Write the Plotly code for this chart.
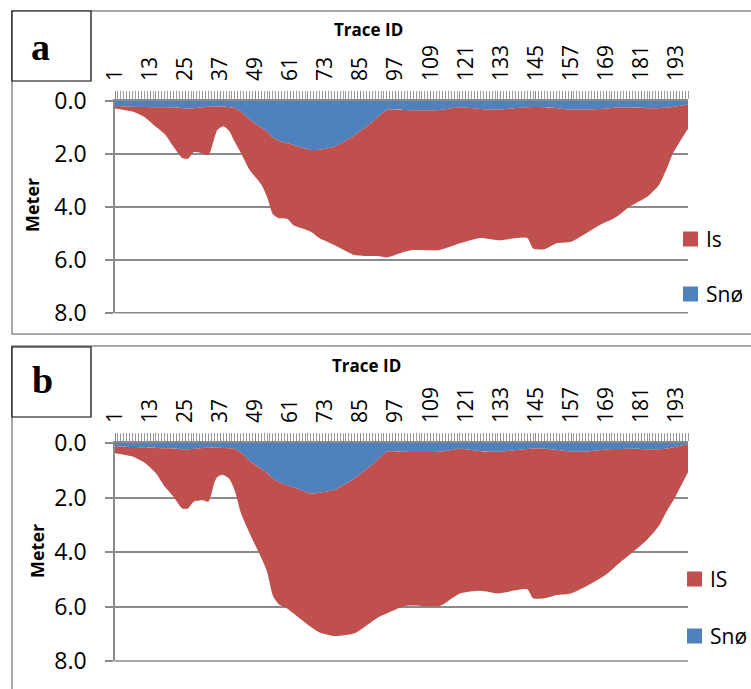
import plotly.graph_objects as go

W, H = 751, 689

# ---------------- data ----------------
trace_ids = [1, 7, 11, 15, 18, 21, 24, 26, 28, 31, 33, 35, 36, 38, 40, 42, 44, 47, 51, 53,
             55, 57, 60, 62, 68, 71, 76, 83, 88, 91, 94, 100, 103, 112, 119, 126, 132, 142,
             144, 148, 152, 157, 163, 168, 171, 173, 177, 183, 187, 190, 192, 197]

snow_a = [0.19, 0.22, 0.23, 0.24, 0.24, 0.25, 0.27, 0.28, 0.27, 0.24, 0.22, 0.21, 0.21, 0.21,
          0.24, 0.27, 0.40, 0.70, 1.00, 1.15, 1.38, 1.50, 1.60, 1.66, 1.85, 1.84, 1.73, 1.29,
          0.88, 0.60, 0.34, 0.34, 0.35, 0.34, 0.24, 0.30, 0.32, 0.24, 0.23, 0.24, 0.27, 0.32,
          0.32, 0.29, 0.26, 0.25, 0.25, 0.27, 0.27, 0.25, 0.22, 0.13]
ice_a = [0.09, 0.18, 0.37, 0.73, 1.01, 1.48, 1.88, 1.90, 1.66, 1.74, 1.82, 1.19, 0.89, 0.74,
         0.88, 1.28, 1.55, 1.90, 2.15, 2.47, 2.90, 2.93, 2.86, 3.03, 3.09, 3.35, 3.71, 4.53,
         4.98, 5.26, 5.57, 5.36, 5.28, 5.29, 5.14, 4.88, 4.94, 4.94, 5.34, 5.36, 5.11, 5.00,
         4.62, 4.33, 4.22, 4.10, 3.75, 3.35, 2.91, 2.23, 1.73, 0.92]

snow_b = [0.12, 0.15, 0.16, 0.18, 0.19, 0.20, 0.23, 0.23, 0.21, 0.18, 0.17, 0.17, 0.17, 0.18,
          0.19, 0.22, 0.35, 0.65, 0.95, 1.10, 1.30, 1.43, 1.55, 1.62, 1.85, 1.83, 1.72, 1.29,
          0.88, 0.60, 0.32, 0.32, 0.33, 0.32, 0.21, 0.30, 0.32, 0.22, 0.20, 0.21, 0.25, 0.32,
          0.31, 0.25, 0.22, 0.22, 0.21, 0.23, 0.23, 0.20, 0.16, 0.05]
ice_b = [0.26, 0.35, 0.56, 0.93, 1.41, 1.77, 2.17, 2.17, 1.94, 1.92, 1.98, 1.28, 1.08, 0.99,
         1.11, 1.53, 2.20, 2.65, 3.25, 3.62, 4.30, 4.49, 4.53, 4.63, 4.90, 5.12, 5.36, 5.69,
         5.74, 5.80, 5.93, 5.66, 5.63, 5.66, 5.31, 5.12, 5.20, 5.15, 5.50, 5.49, 5.33, 5.20,
         4.90, 4.65, 4.43, 4.23, 3.89, 3.32, 2.82, 2.25, 1.94, 1.02]

x_tick_vals = [1, 13, 25, 37, 49, 61, 73, 85, 97, 109, 121, 133, 145, 157, 169, 181, 193]
y_tick_vals = [0, 2, 4, 6, 8]
panel_labels = ["a", "b"]
ice_names = ["Is", "IS"]
snow_name = "Snø"

RED = "#C0504D"
BLUE = "#4F81BD"
GRID = "#8A8A8A"
FONT = "Open Sans"


def px(x):
    return x / W


def py(y):
    return 1 - y / H


fig = go.Figure()

panels = [
    dict(snow=snow_a, ice=ice_a, xa="x", ya="y", top=101, bot=312.7, box=(12, 11, 91, 81),
         border=(12, 11, 800, 334), lab=(40, 47), title_y=29, title_x=368, meter=(32, 205),
         leg_x=683, leg_y=(239, 294), ice_name=ice_names[0], label=panel_labels[0]),
    dict(snow=snow_b, ice=ice_b, xa="x2", ya="y2", top=443, bot=661, box=(12, 347, 91, 417),
         border=(12, 346, 800, 720), lab=(42, 380), title_y=365, title_x=366, meter=(37, 551),
         leg_x=687, leg_y=(579, 636), ice_name=ice_names[1], label=panel_labels[1]),
]

shapes = []
annotations = []
x0p, x1p = 115, 688

for i, p in enumerate(panels):
    sg = "s%d" % i
    fig.add_trace(go.Scatter(x=trace_ids, y=p["snow"], xaxis=p["xa"], yaxis=p["ya"],
                             stackgroup=sg, mode="lines",
                             line=dict(width=0, color=BLUE, shape="spline", smoothing=0.6),
                             fillcolor=BLUE, name=snow_name, showlegend=False))
    fig.add_trace(go.Scatter(x=trace_ids, y=p["ice"], xaxis=p["xa"], yaxis=p["ya"],
                             stackgroup=sg, mode="lines",
                             line=dict(width=0, color=RED, shape="spline", smoothing=0.6),
                             fillcolor=RED, name=p["ice_name"], showlegend=False))

    xkey = "xaxis" if i == 0 else "xaxis2"
    ykey = "yaxis" if i == 0 else "yaxis2"
    fig.update_layout(**{
        xkey: dict(domain=[px(x0p), px(x1p)], anchor=p["ya"], side="top", range=[1, 197],
                   automargin=False,
                   tickmode="array", tickvals=x_tick_vals,
                   ticktext=[str(v) for v in x_tick_vals], tickangle=-90,
                   ticks="outside", ticklen=8, tickcolor=GRID, tickwidth=1,
                   minor=dict(dtick=1, tick0=1, ticks="outside", ticklen=8,
                              tickcolor="#9A9A9A", tickwidth=1, showgrid=False),
                   showline=True, linecolor=GRID, linewidth=1.5, showgrid=False,
                   zeroline=False, tickfont=dict(family=FONT, size=21, color="black"),
                   ticklabelstandoff=6),
        ykey: dict(domain=[py(p["bot"]), py(p["top"])], anchor=p["xa"], range=[8, 0],
                   automargin=False,
                   tickmode="array", tickvals=y_tick_vals,
                   ticktext=["%.1f" % v for v in y_tick_vals],
                   ticks="outside", ticklen=8, tickcolor=GRID, tickwidth=1.5,
                   showline=True, linecolor=GRID, linewidth=1.5,
                   showgrid=True, gridcolor=GRID, gridwidth=1.5, zeroline=False,
                   tickfont=dict(family=FONT, size=23, color="black"),
                   ticklabelstandoff=14),
    })

    # 8.0 gridline on the lower edge of the plot area (plotly skips edge gridlines)
    shapes.append(dict(type="line", xref="paper", yref="paper",
                       x0=px(x0p), x1=px(x1p), y0=py(p["bot"]), y1=py(p["bot"]),
                       line=dict(color=GRID, width=1.5)))

    # panel border
    bx0, by0, bx1, by1 = p["border"]
    shapes.append(dict(type="rect", xref="paper", yref="paper", x0=px(bx0), x1=px(bx1),
                       y0=py(by0), y1=py(by1), line=dict(color="#8C8C8C", width=1.5),
                       fillcolor="rgba(0,0,0,0)", layer="below"))
    # label box
    lx0, ly0, lx1, ly1 = p["box"]
    shapes.append(dict(type="rect", xref="paper", yref="paper", x0=px(lx0), x1=px(lx1),
                       y0=py(ly0), y1=py(ly1), line=dict(color="black", width=1.2),
                       fillcolor="white"))
    annotations.append(dict(text="<b>%s</b>" % p["label"], xref="paper", yref="paper",
                            x=px(p["lab"][0]), y=py(p["lab"][1]), showarrow=False,
                            xanchor="center", yanchor="middle",
                            font=dict(family="Liberation Serif", size=38, color="black")))
    # axis titles
    annotations.append(dict(text="<b>Trace ID</b>", xref="paper", yref="paper",
                            x=px(p["title_x"]), y=py(p["title_y"]), showarrow=False,
                            xanchor="center", yanchor="middle",
                            font=dict(family=FONT, size=17, color="black")))
    annotations.append(dict(text="<b>Meter</b>", xref="paper", yref="paper",
                            x=px(p["meter"][0]), y=py(p["meter"][1]), showarrow=False,
                            xanchor="center", yanchor="middle", textangle=-90,
                            font=dict(family=FONT, size=18, color="black")))
    # legend (Is first, then Snø)
    for name, col, cy in [(p["ice_name"], RED, p["leg_y"][0]), (snow_name, BLUE, p["leg_y"][1])]:
        shapes.append(dict(type="rect", xref="paper", yref="paper",
                           x0=px(p["leg_x"]), x1=px(p["leg_x"] + 15),
                           y0=py(cy - 7.5), y1=py(cy + 7.5), line=dict(width=0),
                           fillcolor=col))
        annotations.append(dict(text=name, xref="paper", yref="paper",
                                x=px(p["leg_x"] + 21), y=py(cy), showarrow=False,
                                xanchor="left", yanchor="middle",
                                font=dict(family=FONT, size=21, color="black")))

fig.update_layout(template="none", width=W, height=H, margin=dict(l=0, r=0, t=0, b=0, pad=0),
                  paper_bgcolor="white", plot_bgcolor="white",
                  shapes=shapes, annotations=annotations, showlegend=False)

fig.write_html("out.html", config={"displayModeBar": False},
               post_script="document.body.style.margin='0';document.body.style.overflow='hidden';")
